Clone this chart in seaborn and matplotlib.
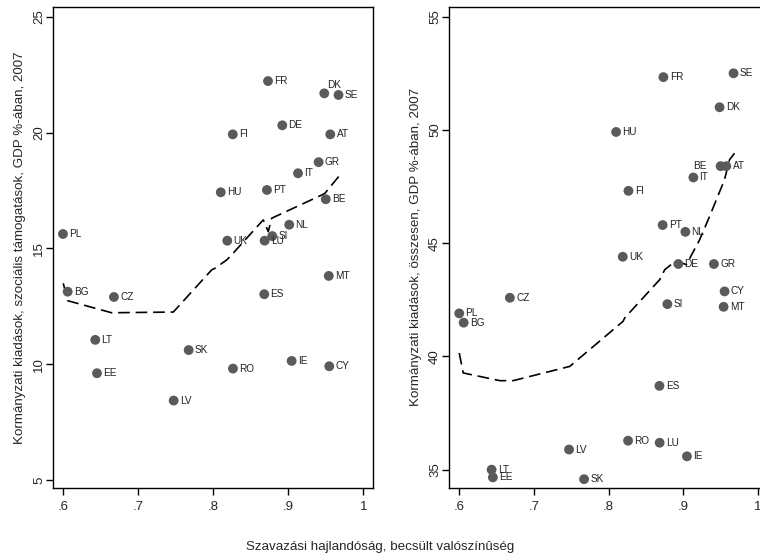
import matplotlib
matplotlib.use("Agg")
import matplotlib.pyplot as plt
import seaborn as sns
import pandas as pd

sns.set_style("white")
plt.rcParams['font.family'] = ['Liberation Sans', 'DejaVu Sans']

# ---- data ----
countries_l = ["FR", "DK", "SE", "DE", "FI", "AT", "GR", "IT", "HU", "PT", "BE", "NL",
               "PL", "SI", "UK", "LU", "MT", "BG", "ES", "CZ", "LT", "SK", "IE", "CY",
               "RO", "EE", "LV"]
turnout_l = [0.873, 0.948, 0.967, 0.892, 0.826, 0.956, 0.9405, 0.913, 0.810, 0.8716, 0.950, 0.9013,
             0.5996, 0.8787, 0.8187, 0.8685, 0.954, 0.6059, 0.868, 0.6676, 0.6427, 0.7672, 0.9045, 0.9547,
             0.8263, 0.645, 0.7472]
social_l = [22.22, 21.69, 21.62, 20.31, 19.92, 19.92, 18.72, 18.24, 17.42, 17.52, 17.12, 16.02,
            15.62, 15.53, 15.33, 15.33, 13.81, 13.13, 13.02, 12.90, 11.05, 10.61, 10.14, 9.91,
            9.81, 9.61, 8.43]

fit_x_l = [0.600, 0.6059, 0.6645, 0.7467, 0.7979, 0.8023, 0.8179, 0.8223, 0.8667, 0.8733,
           0.8779, 0.9445, 0.949, 0.969]
fit_y_l = [13.49, 12.74, 12.22, 12.25, 14.07, 14.14, 14.50, 14.64, 16.23, 15.72,
           16.30, 17.30, 17.38, 18.17]

countries_r = ["SE", "FR", "DK", "HU", "BE", "AT", "IT", "FI", "PT", "NL", "UK", "DE", "GR",
               "CY", "CZ", "SI", "MT", "PL", "BG", "ES", "RO", "LU", "LV", "IE", "LT", "EE", "SK"]
turnout_r = [0.9672, 0.8733, 0.9485, 0.810, 0.9499, 0.9575, 0.9134, 0.8265, 0.8723, 0.9027, 0.8189,
             0.8933, 0.9409, 0.9552, 0.6678, 0.8786, 0.9539, 0.600, 0.6059, 0.868, 0.826, 0.8683,
             0.747, 0.9048, 0.6433, 0.645, 0.7671]
total_r = [52.50, 52.33, 51.0, 49.91, 48.40, 48.40, 47.90, 47.31, 45.80, 45.50, 44.40,
           44.08, 44.08, 42.87, 42.59, 42.31, 42.19, 41.90, 41.49, 38.70, 36.28, 36.19,
           35.89, 35.59, 35.0, 34.66, 34.58]

fit_x_r = [0.600, 0.6053, 0.6544, 0.6722, 0.748, 0.8193, 0.8215, 0.8684, 0.8751, 0.8862,
           0.8929, 0.904, 0.9218, 0.9351, 0.9551, 0.9618, 0.9685]
fit_y_r = [40.15, 39.27, 38.93, 38.93, 39.56, 41.55, 41.70, 43.39, 43.83, 44.12,
           44.19, 44.05, 45.15, 46.18, 47.80, 48.68, 48.97]

xticks = [0.6, 0.7, 0.8, 0.9, 1.0]
xticklabels = [".6", ".7", ".8", ".9", "1"]
yticks_l = [5, 10, 15, 20, 25]
yticks_r = [35, 40, 45, 50, 55]

ylabel_l = "Kormányzati kiadások, szociális támogatások, GDP %-ában, 2007"
ylabel_r = "Kormányzati kiadások, összesen, GDP %-ában, 2007"
xlabel = "Szavazási hajlandóság, becsült valószínûség"

# label placements (offset in points)
label_off_l = {"DK": (2, 6)}
label_off_r = {"BE": (-20, 0)}

fig = plt.figure(figsize=(7.6, 5.58), dpi=100)
ax1 = fig.add_axes([0.0701, 0.1254, 0.4207, 0.8626])
ax2 = fig.add_axes([0.5912, 0.1254, 0.4190, 0.8626])

dot_color = "#5a5a5a"


def draw(ax, countries, xs, ys, fx, fy, yticks, ylim, ylabel, offs):
    df = pd.DataFrame({"x": xs, "y": ys, "c": countries})
    fit = pd.DataFrame({"x": fx, "y": fy})
    sns.lineplot(data=fit, x="x", y="y", ax=ax, sort=False, estimator=None,
                 color="black", lw=1.2, dashes=False, linestyle=(0, (7, 3.5)))
    sns.scatterplot(data=df, x="x", y="y", ax=ax, s=50, color=dot_color,
                    edgecolor="none", zorder=3)
    for c, x, y in zip(countries, xs, ys):
        dx, dy = offs.get(c, (4.5, 0))
        ax.annotate(c, (x, y), xytext=(dx, dy), textcoords="offset points",
                    ha="left", va="center", fontsize=7.2, color="#222222")
    ax.set_xlim(0.5867, 1.013)
    ax.set_ylim(*ylim)
    ax.set_xticks(xticks)
    ax.set_xticklabels(xticklabels)
    ax.set_yticks(yticks)
    ax.set_yticklabels([str(t) for t in yticks], rotation=90, va="center")
    ax.tick_params(axis="both", direction="out", length=5, width=1, color="black",
                   labelsize=9.5, left=True, bottom=True)
    ax.tick_params(axis="y", pad=1)
    ax.tick_params(axis="x", pad=4)
    ax.set_xlabel("")
    ax.set_ylabel(ylabel, fontsize=9.6, labelpad=5)
    for sp in ax.spines.values():
        sp.set_color("black")
        sp.set_linewidth(1.0)


draw(ax1, countries_l, turnout_l, social_l, fit_x_l, fit_y_l, yticks_l, (4.655, 25.43),
     ylabel_l, label_off_l)
draw(ax2, countries_r, turnout_r, total_r, fit_x_r, fit_y_r, yticks_r, (34.19, 55.44),
     ylabel_r, label_off_r)

fig.text(380 / 760, 1 - 547 / 558, xlabel, ha="center", va="center", fontsize=9.6)

fig.savefig("out.png", dpi=100, facecolor="white")
